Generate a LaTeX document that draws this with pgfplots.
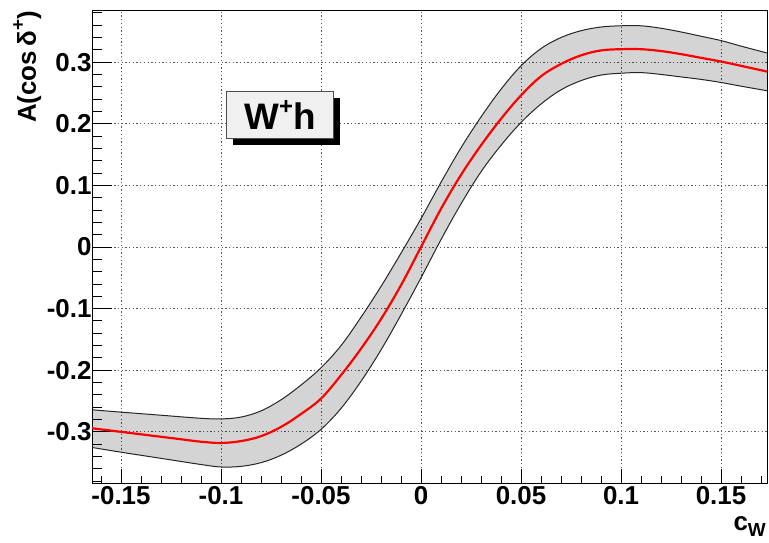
\documentclass[border=0pt]{standalone}
\usepackage{pgfplots}
\pgfplotsset{compat=1.18}
\usepgfplotslibrary{fillbetween}
\usepackage{fontspec}
\setmainfont{Liberation Sans}
\definecolor{rootred}{RGB}{255,0,0}
\definecolor{boxfill}{RGB}{240,240,240}
\begin{document}
\begin{tikzpicture}
\begin{axis}[
  scale only axis,
  width=675bp, height=472bp,
  xmin=-0.1645, xmax=0.173,
  ymin=-0.383, ymax=0.383,
  axis line style={line width=1bp, black},
  xtick={-0.15,-0.1,-0.05,0,0.05,0.1,0.15},
  xticklabels={-0.15,-0.1,-0.05,0,0.05,0.1,0.15},
  ytick={-0.3,-0.2,-0.1,0,0.1,0.2,0.3},
  yticklabels={-0.3,-0.2,-0.1,0,0.1,0.2,0.3},
  minor xtick={-0.16,-0.15,...,0.175},
  minor ytick={-0.38,-0.36,...,0.39},
  xtick pos=bottom, ytick pos=left,
  tick align=inside,
  xtick style={black, line width=0.9bp, /pgfplots/major tick length=14bp, /pgfplots/minor tick length=7bp},
  ytick style={black, line width=0.9bp, /pgfplots/major tick length=20bp, /pgfplots/minor tick length=10bp},
  /pgf/number format/assume math mode=true,
  ticklabel style={font=\fontsize{26}{30}\selectfont\bfseries},
  yticklabel style={xshift=3bp},
  xmajorgrids, ymajorgrids,
  grid style={line width=0.9bp, dash pattern=on 1.3bp off 2.4bp, black!65},
]
% upper edge
\addplot[name path=up, black!85, line width=1bp, smooth, tension=0.6] coordinates {
(-0.165,-0.264) (-0.15,-0.268) (-0.13,-0.273) (-0.11,-0.278) (-0.10,-0.279)
(-0.09,-0.276) (-0.08,-0.266) (-0.07,-0.248) (-0.06,-0.224) (-0.05,-0.196)
(-0.04,-0.160) (-0.03,-0.114) (-0.02,-0.064) (-0.01,-0.010) (0.00,0.046)
(0.01,0.105) (0.02,0.161) (0.03,0.211) (0.04,0.256) (0.05,0.294)
(0.06,0.322) (0.07,0.340) (0.08,0.351) (0.09,0.357) (0.10,0.359)
(0.11,0.359) (0.12,0.355) (0.13,0.349) (0.14,0.342) (0.15,0.335)
(0.16,0.326) (0.174,0.314)
};
% lower edge
\addplot[name path=lo, black!85, line width=1bp, smooth, tension=0.6] coordinates {
(-0.165,-0.325) (-0.15,-0.333) (-0.13,-0.343) (-0.11,-0.353) (-0.10,-0.357)
(-0.09,-0.356) (-0.08,-0.350) (-0.07,-0.338) (-0.06,-0.320) (-0.05,-0.296)
(-0.04,-0.262) (-0.03,-0.218) (-0.02,-0.167) (-0.01,-0.110) (0.00,-0.050)
(0.01,0.012) (0.02,0.070) (0.03,0.122) (0.04,0.165) (0.05,0.202)
(0.06,0.232) (0.07,0.255) (0.08,0.270) (0.09,0.279) (0.10,0.282)
(0.11,0.283) (0.12,0.280) (0.13,0.276) (0.14,0.272) (0.15,0.267)
(0.16,0.261) (0.174,0.253)
};
\addplot[fill=black, fill opacity=0.17, draw=none] fill between[of=up and lo];
% central curve
\addplot[rootred, line width=2.2bp, smooth, tension=0.6] coordinates {
(-0.165,-0.294) (-0.15,-0.300) (-0.14,-0.304) (-0.13,-0.308) (-0.12,-0.312)
(-0.11,-0.316) (-0.10,-0.318) (-0.09,-0.315) (-0.08,-0.307) (-0.07,-0.292)
(-0.06,-0.271) (-0.05,-0.246) (-0.04,-0.208) (-0.03,-0.165) (-0.02,-0.117)
(-0.01,-0.062) (0.00,0.000) (0.01,0.062) (0.02,0.117) (0.03,0.165)
(0.04,0.208) (0.05,0.246) (0.06,0.277) (0.07,0.297) (0.08,0.311)
(0.09,0.319) (0.10,0.321) (0.11,0.321) (0.12,0.318) (0.13,0.313)
(0.14,0.307) (0.15,0.301) (0.16,0.294) (0.174,0.284)
};
\coordinate (tl) at (rel axis cs:0,1);
\coordinate (br) at (rel axis cs:1,0);
\coordinate (bl) at (rel axis cs:0,0);
\coordinate (boxc) at (axis cs:-0.0705,0.214);
\end{axis}
% y label
\node[rotate=90, anchor=base east, inner sep=0pt,
      font=\fontsize{26}{30}\selectfont\bfseries]
  at ([xshift=-56bp]tl) {A(cos\,δ\raisebox{0.45em}{\fontsize{19}{19}\selectfont +})};
% x label
\node[anchor=base east, inner sep=0pt, font=\fontsize{26}{30}\selectfont\bfseries]
  at ([xshift=-1bp, yshift=-47bp]br) {c\raisebox{-0.25em}{\fontsize{19}{19}\selectfont W}};
% W+h box with shadow
\fill[black] ([xshift=6bp,yshift=-6bp]boxc) ++(-53.5bp,-23.5bp) rectangle ++(107bp,47bp);
\node[draw=black!70, line width=1bp, fill=boxfill, minimum width=107bp, minimum height=47bp,
      inner sep=0pt, font=\fontsize{37}{40}\selectfont\bfseries] at (boxc)
  {W\raisebox{0.42em}{\fontsize{24}{24}\selectfont +}h};
\pgfresetboundingbox
\path[use as bounding box] (bl) ++(-92bp,-60bp) rectangle ++(769bp,543bp);
\end{tikzpicture}
\end{document}
